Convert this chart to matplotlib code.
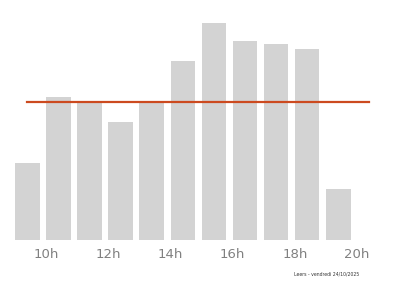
import numpy as np
import matplotlib
matplotlib.use("Agg")
import matplotlib.pyplot as plt

# Hourly values (hour of start of bar)
hours = [9, 10, 11, 12, 13, 14, 15, 16, 17, 18, 19]
values = [77, 143, 137, 118, 137, 179, 217, 199, 196, 191, 51]
ref_level = 138
tick_hours = [10, 12, 14, 16, 18, 20]
tick_labels = ["10h", "12h", "14h", "16h", "18h", "20h"]
footer = "Leers - vendredi 24/10/2025"

fig = plt.figure(figsize=(4.0, 2.86), dpi=100)
ax = fig.add_axes([0, 46 / 286, 1, 230 / 286])

ax.bar(hours, values, width=0.79, align="edge", color="#d3d3d3")
ax.plot([9.38, 20.38], [ref_level, ref_level], color="#cc4a1f", linewidth=1.6)

ax.set_xlim(9 - 15 / 31.1, 9 + 385 / 31.1)
ax.set_ylim(0, 230)
ax.set_xticks(tick_hours)
ax.set_xticklabels(tick_labels, fontsize=9.5, color="#808080")
ax.tick_params(axis="x", length=0, pad=6)
ax.set_yticks([])
for s in ax.spines.values():
    s.set_visible(False)

fig.text(327 / 400, 1 - 274 / 286, footer, fontsize=3.3, color="#333333",
         ha="center", va="center")

fig.savefig("out.png", dpi=100)
